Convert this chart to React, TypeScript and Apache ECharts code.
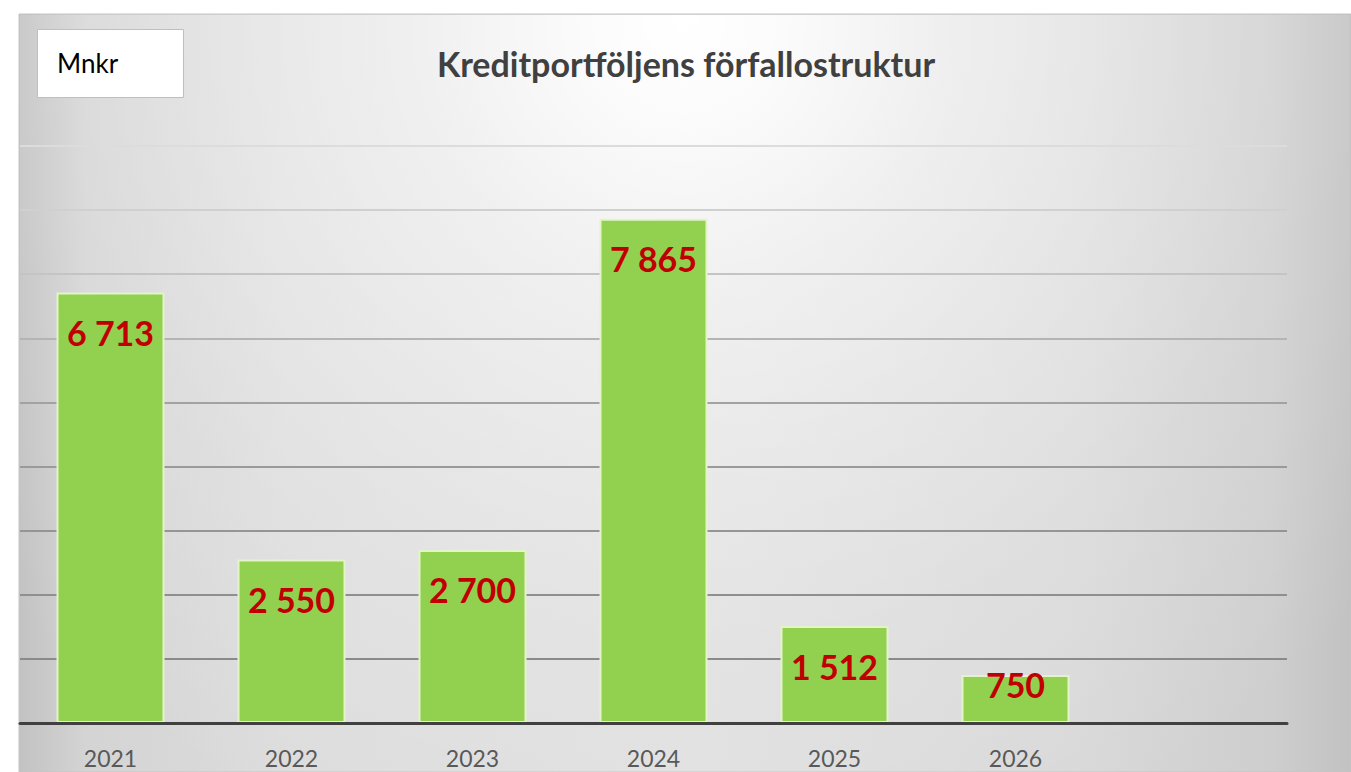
import React, { useEffect, useRef } from "react";
import * as echarts from "echarts";

const categories = ["2021", "2022", "2023", "2024", "2025", "2026", ""];
const values: (number | null)[] = [6713, 2550, 2700, 7865, 1512, 750, null];
const yTicks = { min: 0, max: 9000, interval: 1000 };
const titleText = "Kreditportföljens förfallostruktur";
const unitText = "Mnkr";

const fmt = (v: number) => String(v).replace(/\B(?=(\d{3})+(?!\d))/g, " ");

export default function App() {
  const ref = useRef<HTMLDivElement>(null);
  useEffect(() => {
    if (!ref.current) return;
    const chart = echarts.init(ref.current, null, { renderer: "svg" });
    const W = 1351;
    const H = 772;
    const gridLineColors = [
      "#808080", "#8a8a8a", "#8f8f8f", "#959595", "#9a9a9a",
      "#a2a2a2", "#b4b4b4", "#c4c4c4", "#d0d0d0", "#dcdcdc",
    ];
    chart.setOption({
      animation: false,
      graphic: [
        {
          type: "rect",
          z: -10,
          silent: true,
          shape: { x: 19, y: 14, width: W - 19, height: H - 14 },
          style: {
            fill: new echarts.graphic.LinearGradient(0, 0, 1, 0, [
              { offset: 0, color: "#c2c2c2" },
              { offset: 0.05, color: "#d4d4d4" },
              { offset: 0.2, color: "#dcdcdc" },
              { offset: 0.5, color: "#dfdfdf" },
              { offset: 0.8, color: "#d8d8d8" },
              { offset: 0.94, color: "#cecece" },
              { offset: 1, color: "#c2c2c2" },
            ]),
            stroke: "#c4c4c4",
            lineWidth: 1,
          },
        },
        {
          type: "rect",
          z: -9,
          silent: true,
          shape: { x: 20, y: 15, width: W - 21, height: H - 15 },
          style: {
            fill: {
              type: "radial",
              x: 685,
              y: 20,
              r: 900,
              global: true,
              colorStops: [
                { offset: 0, color: "rgba(255,255,255,1)" },
                { offset: 0.1, color: "rgba(255,255,255,0.9)" },
                { offset: 0.3, color: "rgba(255,255,255,0.55)" },
                { offset: 0.5, color: "rgba(255,255,255,0.33)" },
                { offset: 0.7, color: "rgba(255,255,255,0.15)" },
                { offset: 1, color: "rgba(255,255,255,0)" },
              ],
            },
          },
        },
        {
          type: "rect",
          z: 5,
          shape: { x: 37.5, y: 29.5, width: 146, height: 68 },
          style: { fill: "#ffffff", stroke: "#bfbfbf", lineWidth: 1 },
        },
        {
          type: "text",
          z: 6,
          x: 57,
          y: 63,
          style: {
            text: unitText,
            fontFamily: "Lato",
            fontSize: 26,
            fill: "#000000",
            verticalAlign: "middle",
            align: "left",
          },
        },
        {
          type: "text",
          z: 6,
          x: 686,
          y: 63,
          style: {
            text: titleText,
            fontFamily: "Lato",
            fontWeight: "bold",
            fontSize: 34,
            fill: "#404040",
            verticalAlign: "middle",
            align: "center",
          },
        },
      ],
      grid: { left: 20, right: 64, top: 146, bottom: 49, containLabel: false },
      xAxis: {
        type: "category",
        data: categories,
        axisLine: { show: true, lineStyle: { color: "#404040", width: 3 } },
        axisTick: { show: false },
        axisLabel: {
          color: "#595959",
          fontFamily: "Lato",
          fontSize: 23,
          margin: 23,
        },
        z: 10,
      },
      yAxis: {
        type: "value",
        min: yTicks.min,
        max: yTicks.max,
        interval: yTicks.interval,
        axisLabel: { show: false },
        axisLine: { show: false },
        axisTick: { show: false },
        splitLine: {
          show: true,
          lineStyle: { color: gridLineColors, width: 2 },
        },
      },
      series: [
        {
          type: "bar",
          data: values.map((v) => ({
            value: v,
            label: {
              distance: v !== null && v < 1000 ? -7 : 23,
            },
          })),
          barWidth: 108,
          itemStyle: {
            color: "#92d050",
            borderColor: "#e4f4c8",
            borderWidth: 2,
          },
          label: {
            show: true,
            position: "insideTop",
            color: "#c00000",
            fontFamily: "Lato",
            fontWeight: "bold",
            fontSize: 34,
            formatter: (p: any) => (p.value == null ? "" : fmt(p.value)),
          },
        },
      ],
    });
    return () => chart.dispose();
  }, []);
  return (
    <div
      ref={ref}
      style={{ position: "absolute", left: 0, top: 0, width: 1351, height: 772 }}
    />
  );
}
